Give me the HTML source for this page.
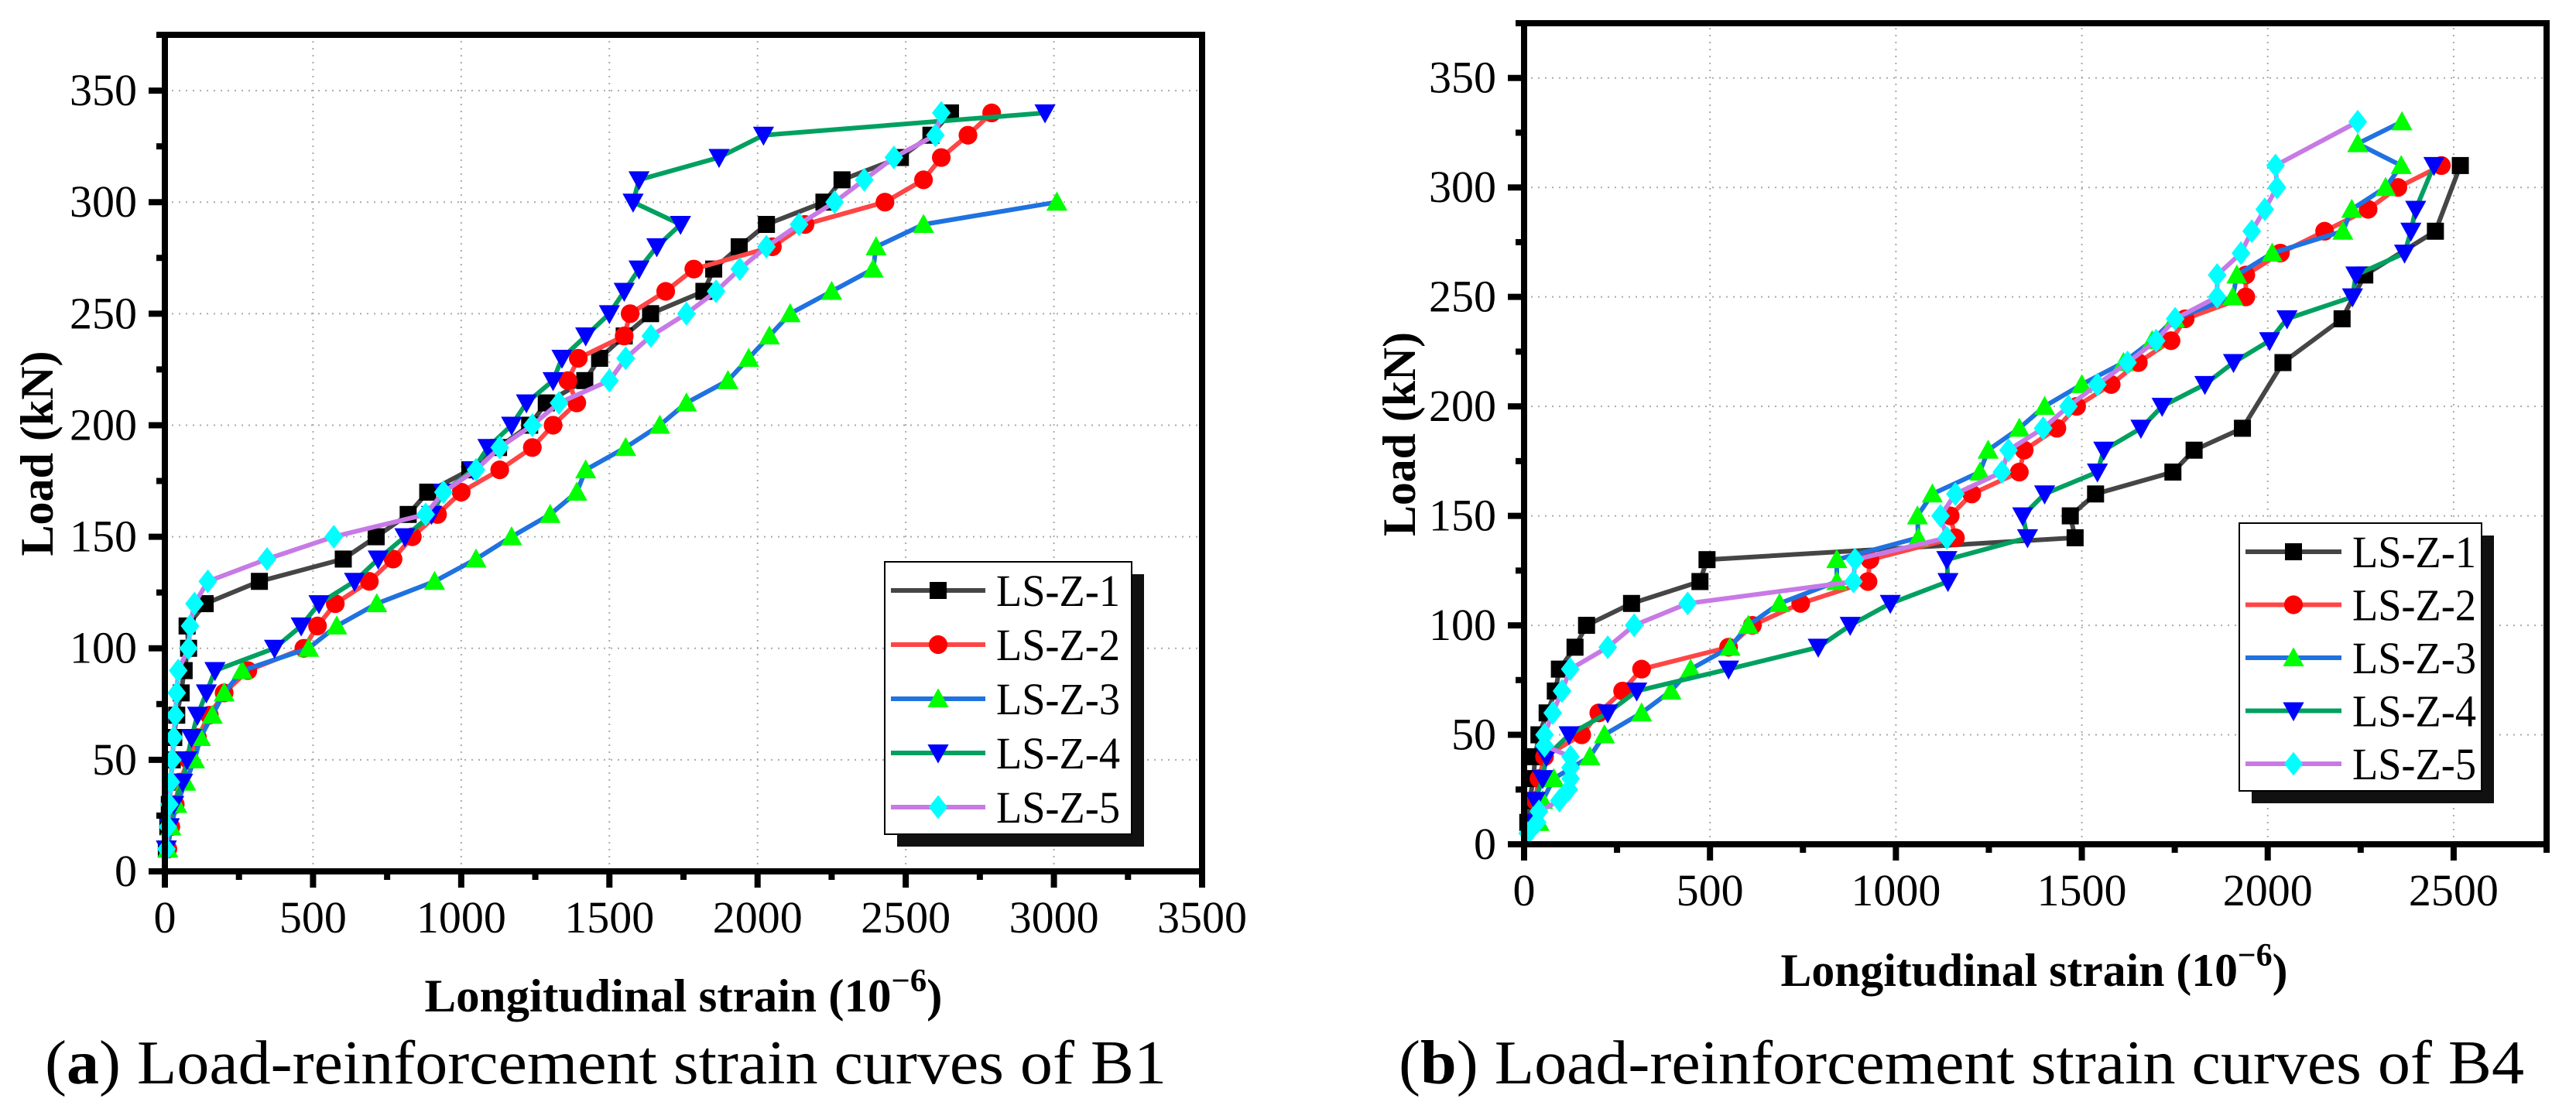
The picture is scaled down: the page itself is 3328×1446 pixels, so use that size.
<!DOCTYPE html>
<html><head><meta charset="utf-8"><style>
html,body{margin:0;padding:0;background:#fff;}
svg{display:block;font-family:"Liberation Serif",serif;}
</style></head><body>
<svg id="fig" xmlns="http://www.w3.org/2000/svg" width="3328" height="1446" viewBox="0 0 3328 1446">
<rect width="3328" height="1446" fill="#fff"/>
<g id="chartA"></g>
<g id="chartB"></g>
<text x="58" y="1400" font-family="Liberation Serif, serif" font-size="80" textLength="1449" lengthAdjust="spacingAndGlyphs">(<tspan font-weight="bold">a</tspan>) Load-reinforcement strain curves of B1</text>
<text x="1807" y="1400" font-family="Liberation Serif, serif" font-size="80" textLength="1454" lengthAdjust="spacingAndGlyphs">(<tspan font-weight="bold">b</tspan>) Load-reinforcement strain curves of B4</text>
</svg>
<script>
const seriesNames = ["LS-Z-1","LS-Z-2","LS-Z-3","LS-Z-4","LS-Z-5"];
const xTicksA = [0,500,1000,1500,2000,2500,3000,3500];
const xTicksB = [0,500,1000,1500,2000,2500];
const yTicks = [0,50,100,150,200,250,300,350];

// Chart A (B1)
const a1Load = [10,20,30,40,50,60,70,80,90,100,110,120,130,140,150,160,170,180,190,200,210,220,230,240,250,260,270,280,290,300,310,320,330,340];
const a1Strain = [5,10,15,20,25,30,40,55,65,80,75,136,319,602,713,821,887,1029,1126,1231,1287,1417,1467,1550,1639,1819,1852,1938,2030,2224,2285,2482,2585,2651];
const a2Load = [10,20,30,40,50,60,70,80,90,100,110,120,130,140,150,160,170,180,190,200,210,220,230,240,250,260,270,280,290,300,310,320,330,340];
const a2Strain = [10,20,35,50,80,110,150,200,280,469,515,575,690,770,835,920,1000,1130,1240,1310,1390,1360,1395,1550,1570,1690,1785,2050,2160,2430,2560,2620,2710,2790];
const a3Load = [10,20,30,40,50,60,70,80,90,100,110,120,130,140,150,160,170,180,190,200,210,220,230,240,250,260,270,280,290,300];
const a3Strain = [10,20,40,70,100,120,160,200,261,485,580,715,910,1050,1170,1300,1390,1420,1555,1670,1760,1900,1970,2040,2110,2250,2390,2400,2560,3010];
const a4Load = [10,20,30,40,50,60,70,80,90,100,110,120,130,140,150,160,170,180,190,200,210,220,230,240,250,260,270,280,290,300,310,320,330,340];
const a4Strain = [5,15,30,60,75,90,110,140,169,370,460,520,640,720,810,900,940,1040,1090,1170,1220,1310,1340,1420,1500,1550,1600,1660,1740,1580,1600,1870,2020,2970];
const a5Load = [10,20,30,40,50,60,70,80,90,100,110,120,130,140,150,160,170,180,190,200,210,220,230,240,250,260,270,280,290,300,310,320,330,340];
const a5Strain = [5,10,15,20,25,30,35,40,45,80,85,100,145,345,570,880,940,1050,1130,1240,1330,1500,1555,1640,1760,1860,1940,2030,2140,2260,2360,2460,2600,2620];

// Chart B (B4)
const b1Load = [10,20,30,40,50,60,70,80,90,100,110,120,130,140,150,160,170,180,190,220,240,260,280,310];
const b1Strain = [10,15,25,30,40,62,84,95,137,168,289,473,492,1482,1469,1537,1745,1802,1932,2041,2200,2261,2451,2518];
const b2Load = [10,20,30,40,50,60,70,80,90,100,110,120,130,140,150,160,170,180,190,200,210,220,230,240,250,260,270,280,290,300,310];
const b2Strain = [20,30,40,55,155,201,265,316,550,614,744,925,930,1160,1146,1204,1332,1345,1433,1486,1579,1652,1740,1778,1941,1941,2034,2153,2270,2350,2467];
const b3Load = [10,20,30,40,50,60,70,80,90,100,110,120,130,140,150,160,170,180,190,200,210,220,230,240,250,260,270,280,290,300,310,320,330];
const b3Strain = [40,50,80,177,216,316,395,448,554,603,687,841,841,1060,1058,1098,1226,1248,1332,1400,1500,1612,1689,1749,1906,1917,2012,2202,2226,2317,2359,2242,2361];
const b4Load = [10,20,30,40,50,60,70,80,90,100,110,120,130,140,150,160,170,180,190,200,210,220,230,240,250,260,270,280,290,310];
const b4Strain = [20,30,50,60,121,225,303,550,791,877,985,1140,1137,1354,1341,1400,1542,1559,1659,1716,1831,1908,2005,2052,2228,2237,2368,2385,2398,2447];
const b5Load = [5,10,15,20,25,30,35,40,45,50,60,70,80,90,100,110,120,130,140,150,160,170,180,190,200,210,220,230,240,250,260,270,280,290,300,310,330];
const b5Strain = [10,35,40,95,120,125,125,125,55,55,77,102,124,225,296,440,886,890,1137,1120,1160,1285,1303,1396,1464,1542,1623,1700,1751,1864,1864,1928,1957,1992,2025,2021,2242];

const lineColors = ["#454545","#ff4545","#1f72e0","#00a060","#c77ae6"];
const markColors = ["#000000","#ff0000","#00ff00","#0000ff","#00ffff"];
const markShapes = ["square","circle","up","down","diamond"];
const NS = "http://www.w3.org/2000/svg";
const FF = "Liberation Serif, serif";

function mk(tag, attrs, parent){
  const e = document.createElementNS(NS, tag);
  for (const k in attrs) e.setAttribute(k, attrs[k]);
  if (tag === "text") e.setAttribute("font-family", FF);
  parent.appendChild(e);
  return e;
}
function marker(g, shape, cx, cy, color, s){
  let el;
  if (shape === "square") el = mk("rect",{x:cx-s/2,y:cy-s/2,width:s,height:s,fill:color},g);
  else if (shape === "circle") el = mk("circle",{cx:cx,cy:cy,r:s*0.55,fill:color},g);
  else if (shape === "up") el = mk("polygon",{points:`${cx},${cy-s*0.62} ${cx-s*0.62},${cy+s*0.5} ${cx+s*0.62},${cy+s*0.5}`,fill:color},g);
  else if (shape === "down") el = mk("polygon",{points:`${cx},${cy+s*0.62} ${cx-s*0.62},${cy-s*0.5} ${cx+s*0.62},${cy-s*0.5}`,fill:color},g);
  else el = mk("polygon",{points:`${cx},${cy-s*0.7} ${cx+s*0.55},${cy} ${cx},${cy+s*0.7} ${cx-s*0.55},${cy}`,fill:color},g);
  
  
  return el;
}

function drawChart(g, cfg){
  const X = v => cfg.x0 + (v/cfg.xMax)*(cfg.x1-cfg.x0);
  const Y = v => cfg.y0 - (v/375)*(cfg.y0-cfg.yTop);
  const grid = mk("g",{},g);
  
  
  cfg.xTicks.forEach(t => { if (t>0 && t<cfg.xMax) mk("line",{x1:X(t),x2:X(t),y1:cfg.y0,y2:cfg.yTop,stroke:"#aaa","stroke-width":2,"stroke-dasharray":"2 7"},grid); });
  yTicks.forEach(t => { if (t>0) mk("line",{x1:cfg.x0,x2:cfg.x1,y1:Y(t),y2:Y(t),stroke:"#aaa","stroke-width":2,"stroke-dasharray":"2 7"},grid); });

  const plot = mk("g",{},g);
  
  
  cfg.series.forEach((s,i) => {
    const sg = mk("g",{},plot);
    
    
    const pts = s.strain.map((v,j) => X(v).toFixed(1)+","+Y(s.load[j]).toFixed(1)).join(" ");
    const pl = mk("polyline",{points:pts,fill:"none",stroke:lineColors[i],"stroke-width":6,"stroke-linejoin":"round"},sg);
    
    
    s.strain.forEach((v,j) => marker(sg, markShapes[i], X(v), Y(s.load[j]), markColors[i], 22));
  });

  const fr = mk("rect",{x:cfg.x0,y:cfg.yTop,width:cfg.x1-cfg.x0,height:cfg.y0-cfg.yTop,fill:"none",stroke:"#000","stroke-width":8},g);
  
  

  const ax = mk("g",{},g);
  
  
  for (let t=0; t<=cfg.xMax; t+=250){
    const major = t % 500 === 0;
    mk("line",{x1:X(t),x2:X(t),y1:cfg.y0,y2:cfg.y0+(major?21:11),stroke:"#000","stroke-width":8},ax);
  }
  for (let t=0; t<=375; t+=25){
    const major = t % 50 === 0;
    mk("line",{x1:cfg.x0,x2:cfg.x0-(major?21:11),y1:Y(t),y2:Y(t),stroke:"#000","stroke-width":8},ax);
  }
  cfg.xTicks.forEach(t => {
    const tx = mk("text",{x:X(t),y:cfg.y0+79,"font-size":58,"text-anchor":"middle"},ax);
    tx.textContent = t;
    
    
  });
  yTicks.forEach(t => {
    const tx = mk("text",{x:cfg.x0-36,y:Y(t)+19,"font-size":58,"text-anchor":"end"},ax);
    tx.textContent = t;
    
    
  });
  const xt = mk("text",{x:cfg.xtX - cfg.xtLen/2,y:cfg.xtY,"font-size":60,"font-weight":"bold",textLength:cfg.xtLen,lengthAdjust:"spacingAndGlyphs"},g);
  xt.innerHTML = 'Longitudinal strain (10<tspan dy="-26" font-size="42">−6</tspan><tspan dy="26">)</tspan>';
  
  
  const yt = mk("text",{x:0,y:0,"font-size":60,"font-weight":"bold","text-anchor":"middle",textLength:cfg.ytLen,lengthAdjust:"spacingAndGlyphs",transform:`translate(${cfg.ytX},${cfg.ytY}) rotate(-90)`},g);
  yt.textContent = "Load (kN)";
  
  

  const L = cfg.leg;
  const lg = mk("g",{},g);
  
  
  mk("rect",{x:L.x+16,y:L.y+16,width:L.w,height:L.h,fill:"#111"},lg);
  mk("rect",{x:L.x,y:L.y,width:L.w,height:L.h,fill:"#fff",stroke:"#000","stroke-width":2},lg);
  seriesNames.forEach((n,i) => {
    const eg = mk("g",{},lg);
    
    
    const cy = L.y + L.first + i*L.step;
    mk("line",{x1:L.x+8,x2:L.x+L.lineW,y1:cy,y2:cy,stroke:lineColors[i],"stroke-width":6},eg);
    marker(eg, markShapes[i], L.x+8+(L.lineW-8)/2, cy, markColors[i], 22);
    const tx = mk("text",{x:L.x+L.lineW+14,y:cy+20,"font-size":58,textLength:160,lengthAdjust:"spacingAndGlyphs"},eg);
    tx.textContent = n;
  });
}

drawChart(document.getElementById("chartA"), {
  x0:213, x1:1553, y0:1126, yTop:45, xMax:3500, xTicks:xTicksA,
  xtX:883, xtY:1307, xtLen:669, ytX:68, ytY:586, ytLen:265,
  leg:{x:1143,y:726,w:319,h:352,first:37,step:70,lineW:130},
  series:[{load:a1Load,strain:a1Strain},{load:a2Load,strain:a2Strain},{load:a3Load,strain:a3Strain},{load:a4Load,strain:a4Strain},{load:a5Load,strain:a5Strain}]
});
drawChart(document.getElementById("chartB"), {
  x0:1969, x1:3290, y0:1091, yTop:30, xMax:2750, xTicks:xTicksB,
  xtX:2628, xtY:1274, xtLen:655, ytX:1828, ytY:561, ytLen:264,
  leg:{x:2893,y:676,w:313,h:346,first:37,step:68.5,lineW:132},
  series:[{load:b1Load,strain:b1Strain},{load:b2Load,strain:b2Strain},{load:b3Load,strain:b3Strain},{load:b4Load,strain:b4Strain},{load:b5Load,strain:b5Strain}]
});
</script>
</body></html>
